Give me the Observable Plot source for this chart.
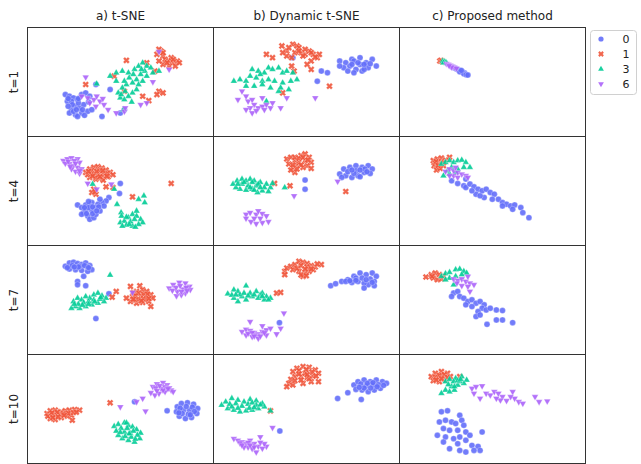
<!DOCTYPE html>
<html><head><meta charset="utf-8">
<script src="https://cdn.jsdelivr.net/npm/d3@7"></script>
<script src="https://cdn.jsdelivr.net/npm/@observablehq/plot@0.6"></script>
<style>
body{margin:0;background:#fff;}
#wrap{position:relative;width:641px;height:464px;font-family:"DejaVu Sans",sans-serif;}
#legend{position:absolute;left:590px;top:30px;}
</style></head><body><div id="wrap"></div>
<script>
// categories
const methods = ["a) t-SNE", "b) Dynamic t-SNE", "c) Proposed method"];
const times = ["t=1", "t=4", "t=7", "t=10"];
const classes = ["0", "1", "3", "6"];
const colors = ["#636efa", "#ef553b", "#00cc96", "#ab63fa"];

// embedding coordinates per panel and class ("x,y" pairs)
const a1_0 = "93,200 103,205 113,210 98,220 108,220 123,215 133,200 143,195 153,205 118,235 108,245 103,255 118,260 133,255 148,250 158,245 128,240 138,230 113,250 123,265 168,170 183,265 203,185 228,255 238,245 100,212 150,222 125,225 140,262 110,230 120,245 135,245 100,235 125,212";
const a1_1 = "318,80 328,70 333,85 338,95 348,100 358,105 368,100 363,115 348,115 333,110 323,100 353,90 323,65 333,75 343,105 358,95 373,105 243,98 293,105 313,130 323,190 333,195 318,200 143,170 238,190 283,205 298,218 213,145";
const a1_3 = "203,145 218,135 233,130 248,135 263,125 273,115 283,105 293,115 303,120 288,130 278,140 268,155 258,165 243,170 233,180 223,195 228,210 238,215 248,205 258,195 268,185 273,170 283,160 293,145 308,135 323,130 218,160 238,160 256,222 236,245 170,168 250,150 260,140 280,125 240,190 230,200";
const a1_6 = "143,148 133,205 148,210 163,215 178,220 153,225 168,235 188,230 198,245 218,255 238,250 278,230 293,225 308,162 348,125 323,72 170,205 185,212 240,240";
const b1_0 = "310,100 325,105 340,95 360,90 375,105 390,95 400,115 365,130 350,125 335,115 320,120 330,130 345,135 360,110 380,120 310,115 265,130 280,135 255,160 195,90 345,100 370,125 340,110 355,105 370,110 385,108";
const b1_1 = "130,80 168,55 180,70 195,50 205,55 200,75 215,75 225,80 235,70 245,80 255,90 240,100 230,110 180,85 192,90 170,75 145,90 192,115 198,130 240,125 285,175 170,195 260,80 220,85 210,60 185,60 210,70 225,65 240,75 250,88";
const b1_3 = "50,160 65,155 80,160 95,125 110,130 125,135 135,120 145,125 160,120 170,135 180,130 195,135 205,155 190,160 170,165 150,160 135,155 120,160 105,150 90,145 80,175 100,175 120,170 140,180 160,190 185,185 165,180 130,220 115,140";
const b1_6 = "60,215 70,190 80,205 85,220 95,215 100,230 110,240 120,235 130,230 140,240 145,225 90,240 80,245 95,255 105,248 125,245 165,240 180,210 250,210 120,210";
const c1_0 = "130,118 135,121 140,124 145,127 150,130 155,133 160,136 148,132 158,138 164,141 152,128 168,142";
const c1_1 = "99,100 102,98 105,102";
const c1_3 = "106,100 110,102 114,104 108,105 116,107";
const c1_6 = "115,108 120,110 125,113 130,116 135,119 140,122 128,118 122,114";

const a2_0 = "228,140 226,170 200,182 193,192 183,197 173,202 158,197 153,207 143,204 123,204 133,212 138,227 148,237 153,247 163,242 168,232 178,222 188,207 143,220 133,232 158,220 168,212 150,194 178,187 150,212 160,210 175,210 145,230 160,230 170,222 140,212";
const a2_1 = "143,107 153,97 163,92 173,90 183,94 193,100 203,107 210,114 198,120 183,124 168,127 153,122 148,114 163,110 178,107 188,112 173,117 158,102 178,100 196,110 168,122 186,130 163,157 168,172 158,167 193,150 210,152 258,180 353,140 166,165 158,112 170,104 185,102 195,118 178,120 160,118 150,104";
const a2_3 = "160,142 213,157 220,202 230,227 231,237 228,257 238,252 248,242 258,232 268,237 278,247 283,257 273,262 258,267 243,264 253,254 263,247 286,177 273,187 288,197 243,240 233,267 268,222 250,262 265,270";
const a2_6 = "88,72 98,67 108,64 123,67 128,77 103,82 113,87 123,92 133,97 118,104 128,110 93,80 108,97 148,140 170,157 206,142 100,74 115,72 118,80 105,90 128,102";
const b2_0 = "310,112 320,97 335,92 350,87 365,92 380,87 390,97 385,110 370,107 355,117 340,122 325,117 315,122 350,102 372,97 225,130 225,157 330,105 345,110 360,100 377,105 340,100 360,120";
const b2_1 = "180,67 190,62 200,72 215,57 225,52 235,62 240,77 230,87 220,92 205,87 195,92 200,107 190,100 185,82 210,77 225,72 150,140 188,147 325,164 240,95 200,62 210,65 220,62 232,70 215,85 205,97 195,85";
const b2_3 = "48,142 58,132 70,127 80,132 90,127 100,132 115,137 130,142 140,152 135,164 120,162 108,167 95,157 80,160 65,157 55,152 70,142 85,147 105,147 125,152 175,152 145,140 60,142 75,137 95,137 110,142 90,152 115,152 100,160";
const b2_6 = "80,232 90,227 105,232 120,230 130,237 135,254 120,257 105,260 92,254 80,244 100,244 115,244 198,177 305,134 110,222";
const c2_0 = "128,132 143,140 158,147 163,152 173,142 183,150 193,157 203,162 213,157 223,167 233,172 243,187 253,197 263,202 273,207 283,204 298,212 303,227 318,242 163,127 188,172 208,182 228,187 253,207 278,217 198,177 178,162";
const c2_1 = "83,72 93,67 103,64 113,70 85,87 95,92 108,87 98,80 91,100 123,62 88,80 100,95 90,75 103,75 95,86 108,78";
const c2_3 = "103,82 113,77 123,72 133,77 143,72 153,70 163,77 173,92 158,92 143,97 128,92 118,102 108,117 123,112 138,107";
const c2_6 = "113,104 123,97 133,102 143,107 153,112 163,117 168,122 133,117 143,122 123,117 138,92";

const a3_0 = "93,62 103,52 113,50 123,54 133,57 143,52 153,60 158,72 148,77 133,74 118,72 103,70 138,92 123,107 123,117 143,120 200,144 168,218 128,62 148,64 110,60 125,64 140,60 150,66 115,64 98,66";
const a3_1 = "253,122 276,120 268,137 283,132 293,137 303,147 308,157 298,167 283,170 268,172 253,167 243,157 258,152 278,152 293,152 288,162 303,182 218,137 208,154 263,162 273,142 260,140 285,145 295,145 265,150 272,160 285,158 298,158 260,160 280,165";
const a3_3 = "203,88 113,167 123,157 133,162 143,152 153,157 163,147 173,142 183,150 193,157 188,167 173,172 158,177 143,182 128,187 118,182 138,170 163,162 178,160 108,187 150,167 125,175 135,178 150,175 165,168 180,155 115,175";
const a3_6 = "348,127 358,117 373,110 388,112 398,122 400,132 388,142 378,147 366,150 368,137 383,130 356,134 258,140 365,125 375,120 390,125 378,137 392,135";
const b3_0 = "288,120 300,114 315,107 330,102 345,92 360,82 375,87 390,82 400,92 395,107 395,120 380,117 370,112 355,107 340,110 325,107 370,127 350,97 162,230 335,105 350,104 365,97 385,100 390,110 375,102";
const b3_1 = "175,77 180,67 190,62 200,57 210,47 220,50 230,54 240,60 250,64 265,57 245,72 235,77 225,82 220,92 210,77 195,72 155,142 165,140 175,87 255,55 205,68 215,60 230,64 240,70 225,70 215,88 228,90";
const b3_3 = "35,144 50,132 60,137 70,152 80,120 90,142 105,137 115,147 130,152 140,157 125,162 110,157 95,152 80,162 60,167 50,157 65,147 120,142 45,148 55,147 75,142 85,150 100,147 120,152 135,162";
const b3_6 = "173,202 70,257 80,250 90,254 100,260 110,264 120,257 130,252 140,247 155,264 165,247 90,227 105,267 95,272 80,267 110,277 130,267 120,240 85,262 95,260 115,270 125,260 100,270";
const c3_0 = "133,142 143,137 148,152 158,157 168,167 178,162 188,172 198,167 208,177 203,187 193,197 188,212 198,207 213,192 223,187 238,192 253,194 238,222 253,222 278,230 215,235 128,152 163,177 178,182";
const c3_1 = "65,94 78,87 88,82 98,87 83,97 93,102 103,100 108,92 80,92";
const c3_3 = "103,92 113,84 123,80 138,72 148,70 158,77 165,82 153,87 138,92 123,97 113,102 133,117";
const c3_6 = "133,100 143,104 153,100 163,107 173,112 183,117 168,122 153,120 141,112 173,137 168,92";

const a4_0 = "263,141 343,168 368,156 378,146 393,144 408,148 418,161 416,176 403,188 388,191 373,184 366,171 383,166 398,166 375,160 390,155 405,157 410,170 395,178 380,176 372,174 400,180";
const a4_1 = "48,176 56,168 68,166 83,171 93,168 103,166 116,164 128,166 108,181 98,184 83,188 68,194 56,191 50,184 63,181 78,178 110,196 203,144 60,174 73,172 88,176 100,175 113,173 75,186 90,181 120,172 62,188";
const a4_3 = "213,214 223,208 238,204 248,211 258,216 268,224 278,234 276,251 263,261 248,256 233,251 223,241 218,228 238,231 253,236 243,204 230,220 245,220 260,228 270,240 255,246 240,244 228,232 265,252 250,236";
const a4_6 = "308,96 318,88 333,84 343,91 353,106 338,111 323,116 313,121 303,114 328,101 358,111 283,131 268,141 228,156 290,169 315,100 325,93 338,97 348,100 333,106 318,108 345,102";
const b4_0 = "345,91 355,81 370,76 385,81 400,76 415,81 425,86 410,101 395,106 380,111 365,106 350,104 375,94 392,91 330,114 305,131 363,134 163,228 362,88 378,86 392,84 405,90 418,92 402,96 386,100 370,100 358,98";
const b4_1 = "195,51 205,41 220,36 235,38 250,46 258,56 245,64 230,68 215,66 200,66 190,74 185,86 195,91 220,86 240,81 258,81 180,96 225,56 140,168 210,48 228,45 242,52 252,64 235,72 210,58 200,78 215,76 230,60";
const b4_3 = "20,151 30,141 45,131 60,136 75,141 90,134 105,138 120,146 125,156 110,161 95,166 80,168 65,171 50,166 35,161 70,154 105,151 140,168 40,148 55,146 85,148 95,144 115,150 60,160 88,160 100,158 45,156";
const b4_6 = "50,251 60,256 70,261 80,266 90,256 100,266 110,274 85,276 95,281 105,291 75,276 130,274 115,246 145,218 125,266 65,264 85,262 100,276 90,270 70,270 115,262 120,280";
const c4_0 = "103,171 118,168 148,181 98,201 113,196 128,201 138,206 153,196 158,211 108,221 123,226 143,226 163,231 173,241 148,246 133,251 113,246 93,241 163,256 178,271 193,274 203,231 198,286 123,281 148,286 163,291 108,261 143,266 183,286";
const c4_1 = "78,66 88,56 103,51 118,56 125,66 113,76 98,81 83,78 93,68 108,66 148,66 88,68 98,62 110,60 118,68 103,72 90,76";
const c4_3 = "113,81 123,74 138,71 153,66 165,76 158,86 143,91 128,96 113,106 103,116 123,111 135,106 148,81 133,81 143,78 120,90 135,96 150,74";
const c4_6 = "178,101 188,96 203,94 183,116 198,131 213,116 223,121 233,111 243,116 253,126 248,136 238,131 263,138 278,111 283,131 293,141 303,146 333,126 343,141 363,139 273,126";

const grid = [
  [[a1_0, a1_1, a1_3, a1_6], [b1_0, b1_1, b1_3, b1_6], [c1_0, c1_1, c1_3, c1_6]],
  [[a2_0, a2_1, a2_3, a2_6], [b2_0, b2_1, b2_3, b2_6], [c2_0, c2_1, c2_3, c2_6]],
  [[a3_0, a3_1, a3_3, a3_6], [b3_0, b3_1, b3_3, b3_6], [c3_0, c3_1, c3_3, c3_6]],
  [[a4_0, a4_1, a4_3, a4_6], [b4_0, b4_1, b4_3, b4_6], [c4_0, c4_1, c4_3, c4_6]]
];

const points = [];
grid.forEach((row, ti) => row.forEach((panel, mi) => panel.forEach((str, ci) => {
  str.trim().split(/\s+/).forEach(p => {
    const [x, y] = p.split(",").map(Number);
    points.push({time: times[ti], method: methods[mi], cls: classes[ci], x, y});
  });
})));

// custom filled symbols
function polySymbol(pts) {
  return {draw(ctx, size) {
    const r = Math.sqrt(size / Math.PI);
    ctx.moveTo(pts[0][0] * r, pts[0][1] * r);
    for (let i = 1; i < pts.length; ++i) ctx.lineTo(pts[i][0] * r, pts[i][1] * r);
    ctx.closePath();
  }};
}
const a = 1.15, w = 0.42;
const plus = [[w,-a],[w,-w],[a,-w],[a,w],[w,w],[w,a],[-w,a],[-w,w],[-a,w],[-a,-w],[-w,-w],[-w,-a]];
const c45 = Math.SQRT1_2;
const xSym = polySymbol(plus.map(([x, y]) => [(x - y) * c45, (x + y) * c45]));
const k = 1.28;
const triUp = polySymbol([[0, -k], [0.866 * k, 0.5 * k], [-0.866 * k, 0.5 * k]]);
const triDown = polySymbol([[0, k], [0.866 * k, -0.5 * k], [-0.866 * k, -0.5 * k]]);
const symbols = ["circle", xSym, triUp, triDown];

const chart = Plot.plot({
  width: 641, height: 464,
  marginLeft: 25.5, marginRight: 55.3, marginTop: 26, marginBottom: 1,
  x: {domain: [0, 457], axis: null},
  y: {domain: [0, 325], reverse: true, axis: null},
  fx: {domain: methods, padding: 0, axis: null},
  fy: {domain: times, padding: 0, axis: null},
  style: {fontFamily: "DejaVu Sans, sans-serif", fontSize: "12px", background: "white"},
  marks: [
    ...classes.map((c, i) => Plot.dot(points.filter(d => d.cls === c), {
      x: "x", y: "y", fx: "method", fy: "time",
      symbol: symbols[i], r: 3.0, fill: colors[i], fillOpacity: 0.9,
      stroke: "white", strokeWidth: 0.4, strokeOpacity: 0.7
    })),
    Plot.frame({stroke: "#333", strokeWidth: 1}),
    Plot.text(methods, {fx: d => d, fy: () => times[0], text: d => d, frameAnchor: "top",
      dy: -11, lineAnchor: "middle", fontSize: 12, fill: "#222"}),
    Plot.text(times, {fx: () => methods[0], fy: d => d, text: d => d, frameAnchor: "left",
      dx: -13, rotate: -90, textAnchor: "middle", lineAnchor: "middle", fontSize: 12, fill: "#222"})
  ]
});
const wrap = document.getElementById("wrap");
wrap.appendChild(chart);

// legend
const lg = d3.select(wrap).append("svg").attr("id", "legend").attr("width", 48).attr("height", 66);
lg.append("rect").attr("x", 0.5).attr("y", 0.5).attr("width", 46).attr("height", 64).attr("rx", 3)
  .attr("fill", "white").attr("stroke", "#d0d0d0");
classes.forEach((c, i) => {
  const sym = typeof symbols[i] === "string" ? d3.symbolCircle : symbols[i];
  lg.append("path").attr("d", d3.symbol(sym, Math.PI * 2.6 * 2.6)())
    .attr("transform", `translate(11,${9 + 15 * i})`).attr("fill", colors[i]).attr("fill-opacity", 0.9);
  lg.append("text").attr("x", 36).attr("y", 9 + 15 * i).attr("dy", "0.35em").attr("text-anchor", "middle")
    .attr("font-size", 11).attr("fill", "#222").attr("font-family", "DejaVu Sans, sans-serif").text(c);
});
</script></body></html>
